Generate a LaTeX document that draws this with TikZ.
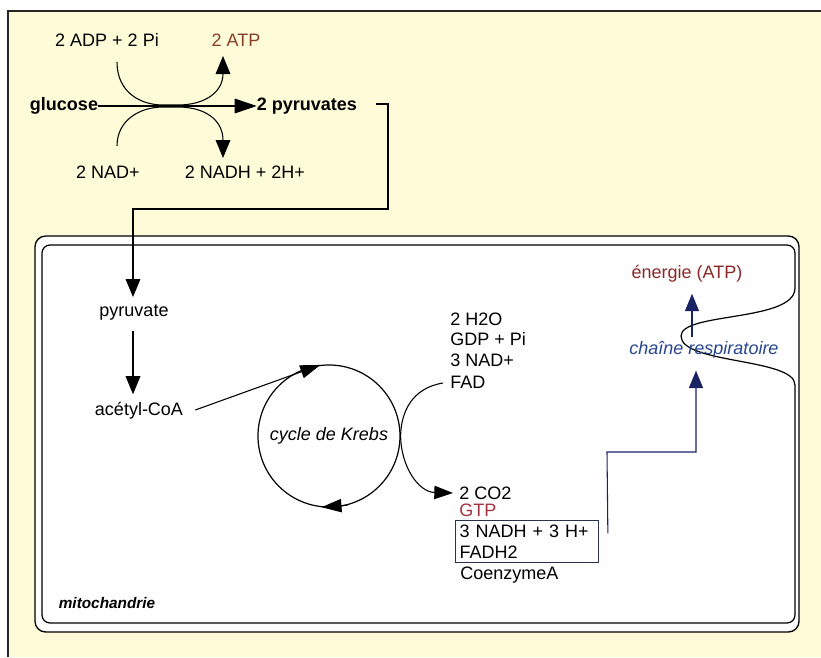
\documentclass[tikz,border=0pt]{standalone}
\usepackage{fontspec}
\setmainfont{Liberation Sans}
\usetikzlibrary{arrows.meta,calc}
\definecolor{panel}{RGB}{254,252,216}
\definecolor{atpbrown}{RGB}{135,60,40}
\definecolor{gtpred}{RGB}{165,50,60}
\definecolor{enerred}{RGB}{140,40,40}
\definecolor{chainblue}{RGB}{40,70,140}
\definecolor{navy}{RGB}{25,35,100}
\definecolor{boxc}{RGB}{40,50,75}
\definecolor{mito}{RGB}{254,254,255}
\tikzset{
  lbl/.style={font=\fontsize{13.5}{15.75}\selectfont, inner sep=0pt},
  bigtip/.style={-{Triangle[length=16.5pt,width=11pt]}},
  tip/.style={-{Triangle[length=13.5pt,width=11pt]}},
  navytip/.style={draw=navy, line width=0.8pt, -{Triangle[length=13pt,width=10.5pt]}},
  conn/.style={line width=0.8pt},
}
\begin{document}
\begin{tikzpicture}[x=0.75pt,y=-0.75pt]
\useasboundingbox (0,0) rectangle (821,657);
\fill[white] (0,0) rectangle (821,657);
\fill[panel] (8,11) rectangle (821,657);
\draw[line width=1.3pt, black!85] (8,657) -- (8,11) -- (821,11);

% mitochondrion membranes
\draw[line width=1pt, fill=mito, rounded corners=8pt] (35,236) rectangle (799,632);
\draw[line width=0.9pt, rounded corners=6pt] (795,288) -- (795,245) -- (42,245) -- (42,623) -- (795,623) -- (795,385);
\draw[line width=0.9pt] (795,385) .. controls (795,358) and (681,364) .. (681,336) .. controls (681,312) and (795,322) .. (795,288);

% glycolysis
\node[lbl] (adp) at (107,40) {2 ADP + 2 Pi};
\node[lbl, text=atpbrown] (atp) at (236,40) {2 ATP};
\node[lbl, font=\fontsize{13.5}{15.75}\selectfont\bfseries] (glu) at (64,106) {glucose};
\node[lbl, font=\fontsize{13.5}{15.75}\selectfont\bfseries] (pyr2) at (307,106) {2 pyruvates};
\node[lbl] (nad) at (108,172) {2 NAD+};
\node[lbl] (nadh) at (245,172) {2 NADH + 2H+};

\draw[conn, bigtip] (glu.east) -- (pyr2.west);
\coordinate (adpend) at (117,62);
\coordinate (atpend) at (223,56);
\coordinate (nadend) at (117,146);
\coordinate (nadhend) at (223,158);
\draw[conn, tip] (adpend) .. controls (117,92) and (140,105) .. (163,105) -- (178,105) .. controls (205,105) and (223,92) .. (atpend);
\draw[conn, tip] (nadend) .. controls (117,120) and (140,107) .. (163,107) -- (178,107) .. controls (205,107) and (223,120) .. (nadhend);

% transfer into mitochondrion
\node[lbl] (pyr) at (134,313) {pyruvate};
\node[lbl] (acoa) at (139,411) {acétyl-CoA};
\draw[conn, tip] ($(pyr2.east)+(19,-2)$) -- (388,104) -- (388,209) -- (133,209) -- ($(pyr.north)+(-1,-8)$);
\draw[conn, tip] ($(pyr.south)+(-1,10)$) -- ($(acoa.north)+(-6,-8)$);

% Krebs cycle
\node[lbl, circle, draw, line width=0.9pt, minimum size=106.5pt, font=\fontsize{13.5}{15.75}\selectfont\itshape] (krebs) at (329,436) {cycle de Krebs};
\draw[conn, -{Triangle[length=15pt,width=10pt]}] ($(acoa.east)+(12,-1)$) -- (krebs.97);
\draw[conn, -{Triangle[length=15pt,width=10pt]}] (krebs.-75) -- (krebs.-96);

\node[lbl, anchor=west] (h2o) at (450,319) {2 H2O};
\node[lbl, anchor=west] (gdp) at (450,339) {GDP + Pi};
\node[lbl, anchor=west] (nad3) at (450,360) {3 NAD+};
\node[lbl, anchor=west] (fad) at (450,382) {FAD};

\node[lbl, anchor=west] (co2) at (459,493) {2 CO2};
\node[lbl, anchor=west, text=gtpred] (gtp) at (459,510) {GTP};
\node[lbl, draw=boxc, line width=0.9pt, anchor=north west, inner xsep=3pt, inner ysep=3pt, text width=101pt, align=left] (box) at (455,520) {3 NADH + 3 H+\\FADH2};
\node[lbl, anchor=west] (coa) at (460,575) {CoenzymeA};

\draw[conn, -{Triangle[length=14pt,width=10pt]}] ($(fad.west)+(-7,1)$) .. controls (412,388) and (401,412) .. (krebs.east) .. controls (401,466) and (418,492) .. ($(co2.west)+(-6,0)$);

% respiratory chain
\node[lbl, text=chainblue, font=\fontsize{13.5}{15.75}\selectfont\itshape] (chain) at (704,350) {chaîne respiratoire};
\node[lbl, text=enerred] (ener) at (687,274) {énergie (ATP)};
\draw[navytip] ($(box.east)+(9,-8)$) -- (607,452) -- (696,452) -- ($(chain.south)+(-8,12)$);
\draw[navytip] ($(chain.north)+(-12,-4)$) -- ($(ener.south)+(5,11)$);

\node[lbl, font=\fontsize{11.5}{13}\selectfont\bfseries\itshape] (mitolbl) at (107,603) {mitochandrie};
\end{tikzpicture}
\end{document}
